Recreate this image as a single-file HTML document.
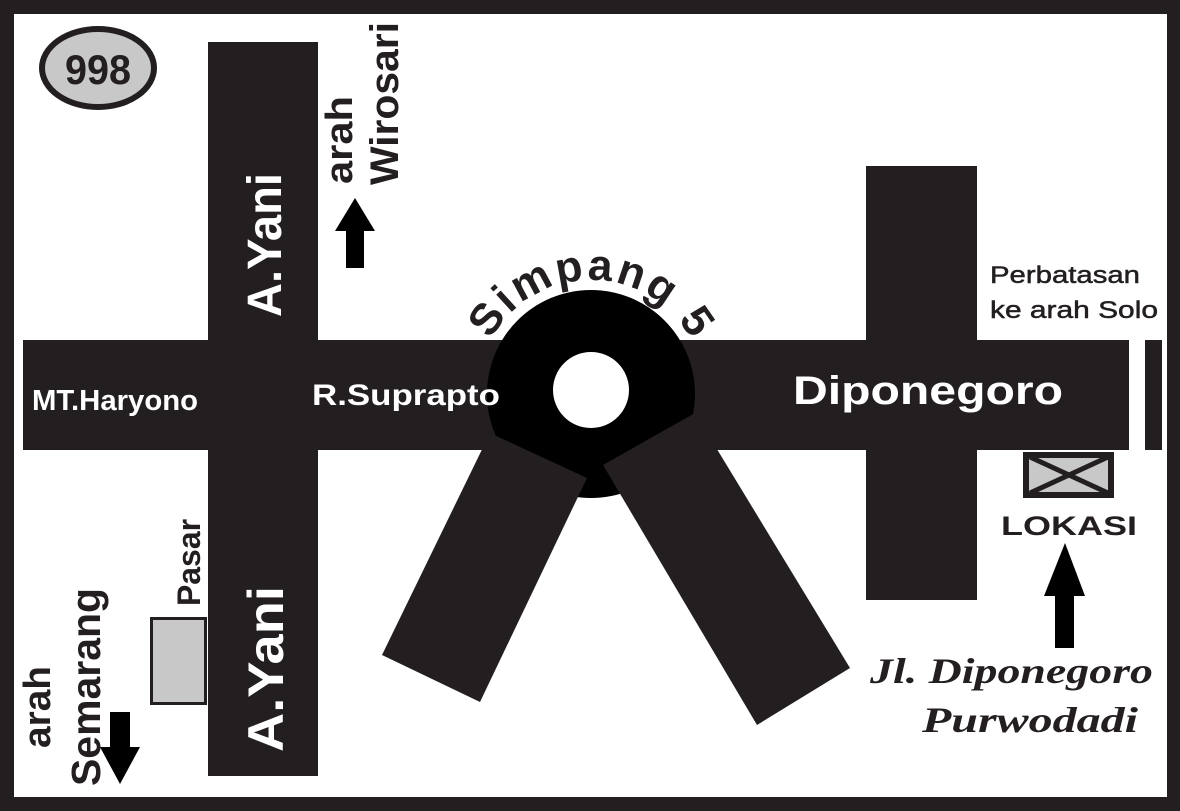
<!DOCTYPE html>
<html><head><meta charset="utf-8"><style>
html,body{margin:0;padding:0;background:#fff}
svg{display:block}
text{font-family:"Liberation Sans",Arial,sans-serif;font-weight:bold}
</style></head><body>
<svg width="1180" height="811" viewBox="0 0 1180 811" xmlns="http://www.w3.org/2000/svg">
<rect x="0" y="0" width="1180" height="811" fill="#231f20"/>
<rect x="14" y="14" width="1153" height="783" fill="#fff"/>
<!-- roads -->
<rect x="208" y="42" width="110" height="734" fill="#231f20"/>
<rect x="23" y="340" width="1139" height="110" fill="#231f20"/>
<rect x="866" y="166" width="111" height="434" fill="#231f20"/>
<rect x="1129" y="340" width="16" height="110" fill="#fff"/>
<!-- roundabout -->
<circle cx="591" cy="394" r="104" fill="#000"/>
<circle cx="591" cy="390" r="38" fill="#fff"/>
<polygon points="490,433 587,478 480,702 382,655" fill="#231f20"/>
<polygon points="603,465 695,413 850,668 757,725" fill="#231f20"/>
<!-- Simpang 5 -->
<path id="arc" d="M477,394 A114,114 0 0 1 705,394" fill="none"/>
<text font-size="44" fill="#231f20" text-anchor="middle"><textPath href="#arc" startOffset="50%" textLength="245" lengthAdjust="spacing">Simpang 5</textPath></text>
<!-- 998 -->
<ellipse cx="98" cy="68" rx="56" ry="39" fill="#c8c8c8" stroke="#231f20" stroke-width="6"/>
<text x="98" y="84" font-size="42" text-anchor="middle" fill="#231f20" textLength="66" lengthAdjust="spacingAndGlyphs">998</text>
<!-- road labels -->
<text x="32" y="410" font-size="29" fill="#fff" textLength="166" lengthAdjust="spacingAndGlyphs">MT.Haryono</text>
<text x="312" y="405" font-size="30" fill="#fff" textLength="188" lengthAdjust="spacingAndGlyphs">R.Suprapto</text>
<text x="793" y="404" font-size="40" fill="#fff" textLength="270" lengthAdjust="spacingAndGlyphs">Diponegoro</text>
<text transform="translate(281,317) rotate(-90)" font-size="48" fill="#fff" textLength="144" lengthAdjust="spacingAndGlyphs">A.Yani</text>
<text transform="translate(283,752) rotate(-90)" font-size="50" fill="#fff" textLength="166" lengthAdjust="spacingAndGlyphs">A.Yani</text>
<!-- Wirosari -->
<text transform="translate(352,184) rotate(-90)" font-size="38" fill="#231f20" textLength="88" lengthAdjust="spacingAndGlyphs">arah</text>
<text transform="translate(398,185) rotate(-90)" font-size="40" fill="#231f20" textLength="163" lengthAdjust="spacingAndGlyphs">Wirosari</text>
<polygon points="355,198 375,231 364,231 364,268 346,268 346,231 335,231" fill="#000"/>
<!-- Pasar -->
<text transform="translate(200,606) rotate(-90)" font-size="32" fill="#231f20" textLength="87" lengthAdjust="spacingAndGlyphs">Pasar</text>
<rect x="151.5" y="618.5" width="54" height="85" fill="#c8c8c8" stroke="#231f20" stroke-width="3"/>
<!-- Semarang -->
<text transform="translate(50,748) rotate(-90)" font-size="38" fill="#231f20" textLength="82" lengthAdjust="spacingAndGlyphs">arah</text>
<text transform="translate(100,786) rotate(-90)" font-size="41" fill="#231f20" textLength="198" lengthAdjust="spacingAndGlyphs">Semarang</text>
<polygon points="110,712 130,712 130,747 140,747 120,784 100,747 110,747" fill="#000"/>
<!-- Perbatasan -->
<text x="990" y="283" font-size="24" style="font-weight:normal" fill="#231f20" stroke="#231f20" stroke-width="0.5" textLength="150" lengthAdjust="spacingAndGlyphs">Perbatasan</text>
<text x="990" y="318" font-size="24" style="font-weight:normal" fill="#231f20" stroke="#231f20" stroke-width="0.5" textLength="168" lengthAdjust="spacingAndGlyphs">ke arah Solo</text>
<!-- Lokasi -->
<rect x="1026" y="455" width="85" height="40" fill="#c8c8c8" stroke="#231f20" stroke-width="6"/>
<line x1="1030" y1="457" x2="1108" y2="493" stroke="#231f20" stroke-width="5"/>
<line x1="1108" y1="457" x2="1030" y2="493" stroke="#231f20" stroke-width="5"/>
<text x="1001" y="535" font-size="27" fill="#231f20" textLength="136" lengthAdjust="spacingAndGlyphs" style="font-weight:900">LOKASI</text>
<polygon points="1065,543 1085,596 1074,596 1074,648 1055,648 1055,596 1044,596" fill="#000"/>
<text x="870" y="683" font-size="36" fill="#231f20" font-style="italic" style="font-family:'Liberation Serif',serif;font-weight:bold" textLength="283" lengthAdjust="spacingAndGlyphs">Jl. Diponegoro</text>
<text x="922" y="732" font-size="36" fill="#231f20" font-style="italic" style="font-family:'Liberation Serif',serif;font-weight:bold" textLength="216" lengthAdjust="spacingAndGlyphs">Purwodadi</text>
</svg>
</body></html>
